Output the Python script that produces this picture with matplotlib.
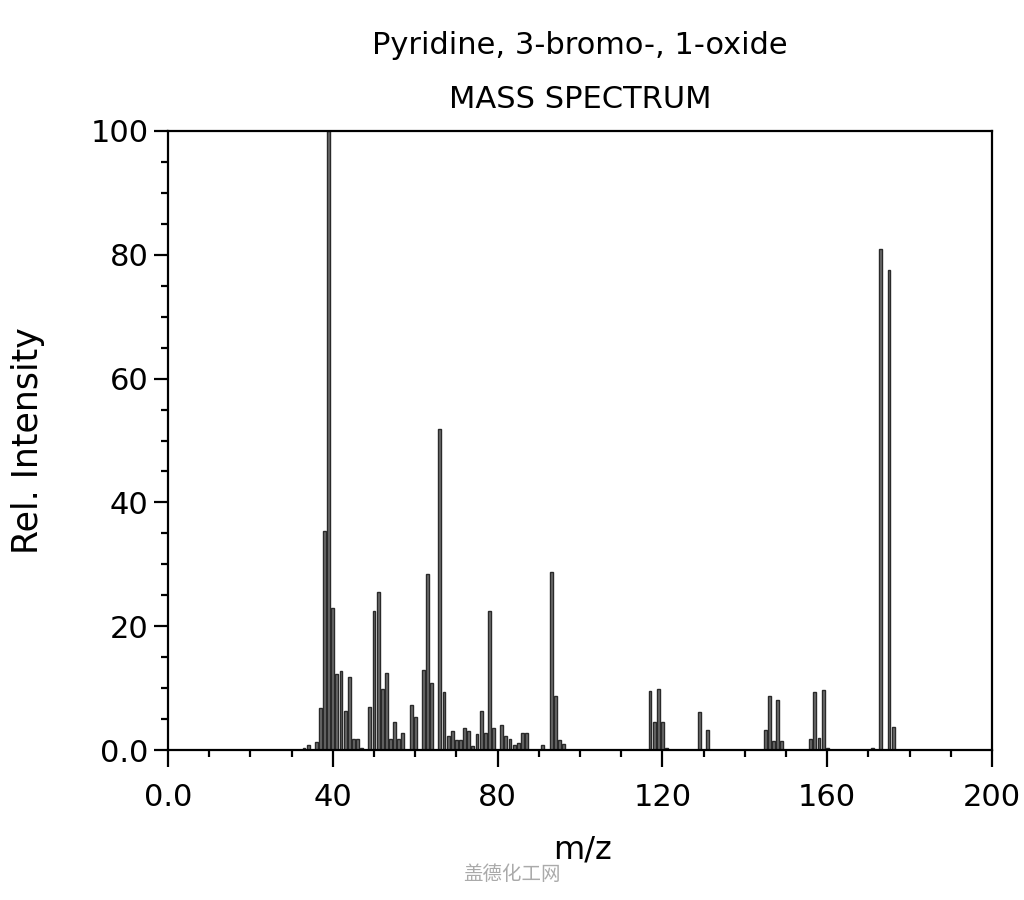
import matplotlib
matplotlib.use("Agg")
import matplotlib.pyplot as plt
from matplotlib.ticker import MultipleLocator, FixedLocator

title_line1 = "Pyridine, 3-bromo-, 1-oxide"
title_line2 = "MASS SPECTRUM"
x_label = "m/z"
y_label = "Rel. Intensity"
watermark = "盖德化工网"

mz = [33, 34, 36, 37, 38, 39, 40, 41, 42, 43, 44, 45, 46, 47, 49, 50, 51, 52, 53,
      54, 55, 56, 57, 59, 60, 62, 63, 64, 66, 67, 68, 69, 70, 71, 72, 73, 74, 75,
      76, 77, 78, 79, 81, 82, 83, 84, 85, 86, 87, 91, 93, 94, 95, 96, 117, 118,
      119, 120, 121, 129, 131, 145, 146, 147, 148, 149, 156, 157, 158, 159, 160,
      171, 173, 175, 176]
intensity = [0.3, 0.8, 1.3, 6.8, 35.3, 100, 23, 12.2, 12.8, 6.3, 11.8, 1.8, 1.8,
             0.3, 7, 22.5, 25.5, 9.8, 12.5, 1.7, 4.5, 1.7, 2.8, 7.2, 5.4, 13, 28.5,
             10.8, 51.8, 9.3, 2.2, 3, 1.6, 1.6, 3.6, 3, 0.6, 2.6, 6.3, 2.8, 22.4,
             3.5, 4.1, 2.3, 1.8, 0.8, 1.2, 2.7, 2.7, 0.8, 28.8, 8.7, 1.6, 0.9, 9.5,
             4.5, 9.8, 4.5, 0.4, 6.2, 3.2, 3.3, 8.7, 1.4, 8.1, 1.4, 1.7, 9.4, 1.9,
             9.7, 0.4, 0.3, 81, 77.5, 3.7]

x_ticks = [0, 40, 80, 120, 160, 200]
x_tick_labels = ["0.0", "40", "80", "120", "160", "200"]
y_ticks = [0, 20, 40, 60, 80, 100]
y_tick_labels = ["0.0", "20", "40", "60", "80", "100"]

plt.rcParams['font.family'] = ['DejaVu Sans', 'Noto Sans CJK SC']

fig = plt.figure(figsize=(10.24, 9), dpi=100)
ax = fig.add_axes([168/1024, 150/900, 824/1024, 619/900])

ax.bar(mz, intensity, width=0.7, color='#6e6e6e', edgecolor='#2a2a2a',
       linewidth=1.0, zorder=2)

ax.set_xlim(0, 200)
ax.set_ylim(0, 100)
ax.xaxis.set_major_locator(FixedLocator(x_ticks))
ax.set_xticklabels(x_tick_labels)
ax.xaxis.set_minor_locator(MultipleLocator(10))
ax.yaxis.set_major_locator(FixedLocator(y_ticks))
ax.set_yticklabels(y_tick_labels)
ax.yaxis.set_minor_locator(MultipleLocator(5))

for s in ax.spines.values():
    s.set_linewidth(1.6)
    s.set_color('black')

ax.tick_params(axis='x', which='major', direction='out', length=12, width=1.6,
               labelsize=22, pad=12)
ax.tick_params(axis='x', which='minor', direction='out', length=5, width=1.6)
ax.tick_params(axis='y', which='major', direction='out', length=10, width=1.6,
               labelsize=22, pad=4)
ax.tick_params(axis='y', which='minor', direction='out', length=5, width=1.6)

fig.text(580/1024, 1 - 45/900, title_line1, ha='center', va='center', fontsize=22)
fig.text(580/1024, 1 - 100/900, title_line2, ha='center', va='center', fontsize=22)
fig.text(28/1024, 1 - 441/900, y_label, ha='center', va='center', rotation=90,
         fontsize=25)
fig.text(582/1024, 1 - 850/900, x_label, ha='center', va='center', fontsize=23)
fig.text(512/1024, 1 - 875/900, watermark, ha='center', va='center', fontsize=14,
         color='#aaaaaa', family=['Noto Sans CJK SC', 'DejaVu Sans'])

fig.savefig("out.png", dpi=100, facecolor='white')
